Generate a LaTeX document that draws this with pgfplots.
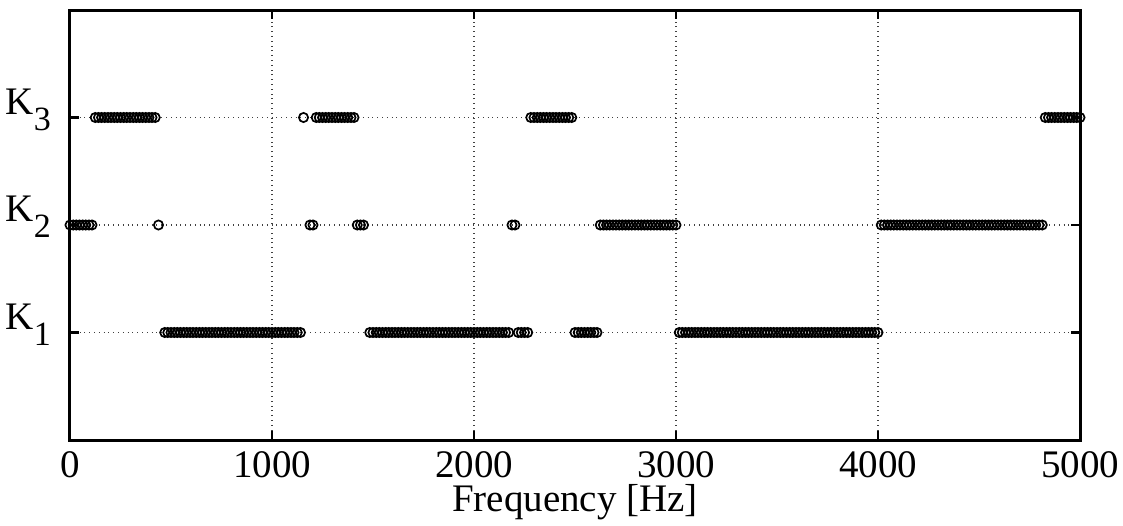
\documentclass[border=0pt]{standalone}
\usepackage{pgfplots}
\pgfplotsset{compat=1.18}
\usepackage{pgfplotstable}
\usepackage{fontspec}
\setmainfont{Liberation Serif}
\newcommand\Ksub[1]{K\raisebox{-8pt}{\fontsize{17}{17}\selectfont #1}}

\pgfplotstableread[row sep=\\]{
x y\\
469 1\\ 484 1\\ 500 1\\ 516 1\\ 531 1\\ 547 1\\ 563 1\\ 578 1\\ 594 1\\ 609 1\\
625 1\\ 641 1\\ 656 1\\ 672 1\\ 688 1\\ 703 1\\ 719 1\\ 734 1\\ 750 1\\ 766 1\\
781 1\\ 797 1\\ 813 1\\ 828 1\\ 844 1\\ 859 1\\ 875 1\\ 891 1\\ 906 1\\ 922 1\\
938 1\\ 953 1\\ 969 1\\ 984 1\\ 1000 1\\ 1016 1\\ 1031 1\\ 1047 1\\ 1063 1\\ 1078 1\\
1094 1\\ 1109 1\\ 1125 1\\ 1141 1\\
1484 1\\ 1500 1\\ 1516 1\\ 1531 1\\ 1547 1\\ 1563 1\\ 1578 1\\ 1594 1\\ 1609 1\\ 1625 1\\
1641 1\\ 1656 1\\ 1672 1\\ 1688 1\\ 1703 1\\ 1719 1\\ 1734 1\\ 1750 1\\ 1766 1\\ 1781 1\\
1797 1\\ 1813 1\\ 1828 1\\ 1844 1\\ 1859 1\\ 1875 1\\ 1891 1\\ 1906 1\\ 1922 1\\ 1938 1\\
1953 1\\ 1969 1\\ 1984 1\\ 2000 1\\ 2016 1\\ 2031 1\\ 2047 1\\ 2063 1\\ 2078 1\\ 2094 1\\
2109 1\\ 2125 1\\ 2141 1\\ 2156 1\\ 2172 1\\
2219 1\\ 2234 1\\ 2250 1\\ 2266 1\\
2500 1\\ 2516 1\\ 2531 1\\ 2547 1\\ 2563 1\\ 2578 1\\ 2594 1\\ 2609 1\\
3016 1\\ 3031 1\\ 3047 1\\ 3063 1\\ 3078 1\\ 3094 1\\ 3109 1\\ 3125 1\\ 3141 1\\ 3156 1\\
3172 1\\ 3188 1\\ 3203 1\\ 3219 1\\ 3234 1\\ 3250 1\\ 3266 1\\ 3281 1\\ 3297 1\\ 3313 1\\
3328 1\\ 3344 1\\ 3359 1\\ 3375 1\\ 3391 1\\ 3406 1\\ 3422 1\\ 3438 1\\ 3453 1\\ 3469 1\\
3484 1\\ 3500 1\\ 3516 1\\ 3531 1\\ 3547 1\\ 3563 1\\ 3578 1\\ 3594 1\\ 3609 1\\ 3625 1\\
3641 1\\ 3656 1\\ 3672 1\\ 3688 1\\ 3703 1\\ 3719 1\\ 3734 1\\ 3750 1\\ 3766 1\\ 3781 1\\
3797 1\\ 3813 1\\ 3828 1\\ 3844 1\\ 3859 1\\ 3875 1\\ 3891 1\\ 3906 1\\ 3922 1\\ 3938 1\\
3953 1\\ 3969 1\\ 3984 1\\ 4000 1\\
}\Kone

\pgfplotstableread[row sep=\\]{
x y\\
0 2\\ 16 2\\ 31 2\\ 47 2\\ 63 2\\ 78 2\\ 94 2\\ 109 2\\
438 2\\
1188 2\\ 1203 2\\
1422 2\\ 1438 2\\ 1453 2\\
2188 2\\ 2203 2\\
2625 2\\ 2641 2\\ 2656 2\\ 2672 2\\ 2688 2\\ 2703 2\\ 2719 2\\ 2734 2\\ 2750 2\\ 2766 2\\
2781 2\\ 2797 2\\ 2813 2\\ 2828 2\\ 2844 2\\ 2859 2\\ 2875 2\\ 2891 2\\ 2906 2\\ 2922 2\\
2938 2\\ 2953 2\\ 2969 2\\ 2984 2\\ 3000 2\\
4016 2\\ 4031 2\\ 4047 2\\ 4063 2\\ 4078 2\\ 4094 2\\ 4109 2\\ 4125 2\\ 4141 2\\ 4156 2\\
4172 2\\ 4188 2\\ 4203 2\\ 4219 2\\ 4234 2\\ 4250 2\\ 4266 2\\ 4281 2\\ 4297 2\\ 4313 2\\
4328 2\\ 4344 2\\ 4359 2\\ 4375 2\\ 4391 2\\ 4406 2\\ 4422 2\\ 4438 2\\ 4453 2\\ 4469 2\\
4484 2\\ 4500 2\\ 4516 2\\ 4531 2\\ 4547 2\\ 4563 2\\ 4578 2\\ 4594 2\\ 4609 2\\ 4625 2\\
4641 2\\ 4656 2\\ 4672 2\\ 4688 2\\ 4703 2\\ 4719 2\\ 4734 2\\ 4750 2\\ 4766 2\\ 4781 2\\
4797 2\\ 4813 2\\
}\Ktwo

\pgfplotstableread[row sep=\\]{
x y\\
125 3\\ 141 3\\ 156 3\\ 172 3\\ 188 3\\ 203 3\\ 219 3\\ 234 3\\ 250 3\\ 266 3\\
281 3\\ 297 3\\ 313 3\\ 328 3\\ 344 3\\ 359 3\\ 375 3\\ 391 3\\ 406 3\\ 422 3\\
1156 3\\
1219 3\\ 1234 3\\ 1250 3\\ 1266 3\\ 1281 3\\ 1297 3\\ 1313 3\\ 1328 3\\ 1344 3\\ 1359 3\\
1375 3\\ 1391 3\\ 1406 3\\
2281 3\\ 2297 3\\ 2313 3\\ 2328 3\\ 2344 3\\ 2359 3\\ 2375 3\\ 2391 3\\ 2406 3\\ 2422 3\\
2438 3\\ 2453 3\\ 2469 3\\ 2484 3\\
4828 3\\ 4844 3\\ 4859 3\\ 4875 3\\ 4891 3\\ 4906 3\\ 4922 3\\ 4938 3\\ 4953 3\\ 4969 3\\
4984 3\\ 5000 3\\
}\Kthree

\begin{document}
\begin{tikzpicture}
\begin{axis}[
  scale only axis,
  width=505pt, height=215pt,
  xmin=0, xmax=5000, ymin=0, ymax=4,
  xtick={0,1000,2000,3000,4000,5000},
  ytick={1,2,3},
  yticklabels={\Ksub{1},\Ksub{2},\Ksub{3}},
  scaled x ticks=false,
  /pgf/number format/assume math mode=true,
  /pgf/number format/1000 sep={},
  tick align=inside,
  major tick length=4.5pt,
  tick style={black, line width=1.3pt},
  axis line style={black, line width=1.5pt},
  xmajorgrids, ymajorgrids,
  major grid style={dotted, black!75, line width=0.6pt},
  ticklabel style={font=\fontsize{19.5}{19.5}\selectfont},
  xticklabel style={yshift=-2pt},
  yticklabel style={xshift=-6pt, yshift=4pt},
  xlabel={Frequency [Hz]},
  xlabel style={font=\fontsize{19.5}{19.5}\selectfont, inner sep=0pt, yshift=0pt},
  clip=false,
]
\addplot[only marks, mark=o, mark size=2.3pt, black, line width=0.85pt] table[x=x,y=y] {\Kone};
\addplot[only marks, mark=o, mark size=2.3pt, black, line width=0.85pt] table[x=x,y=y] {\Ktwo};
\addplot[only marks, mark=o, mark size=2.3pt, black, line width=0.85pt] table[x=x,y=y] {\Kthree};
\end{axis}
\pgfresetboundingbox
\useasboundingbox ([xshift=-35pt,yshift=-42.5pt]current axis.south west) rectangle ([xshift=21.5pt,yshift=5pt]current axis.north east);
\end{tikzpicture}
\end{document}
